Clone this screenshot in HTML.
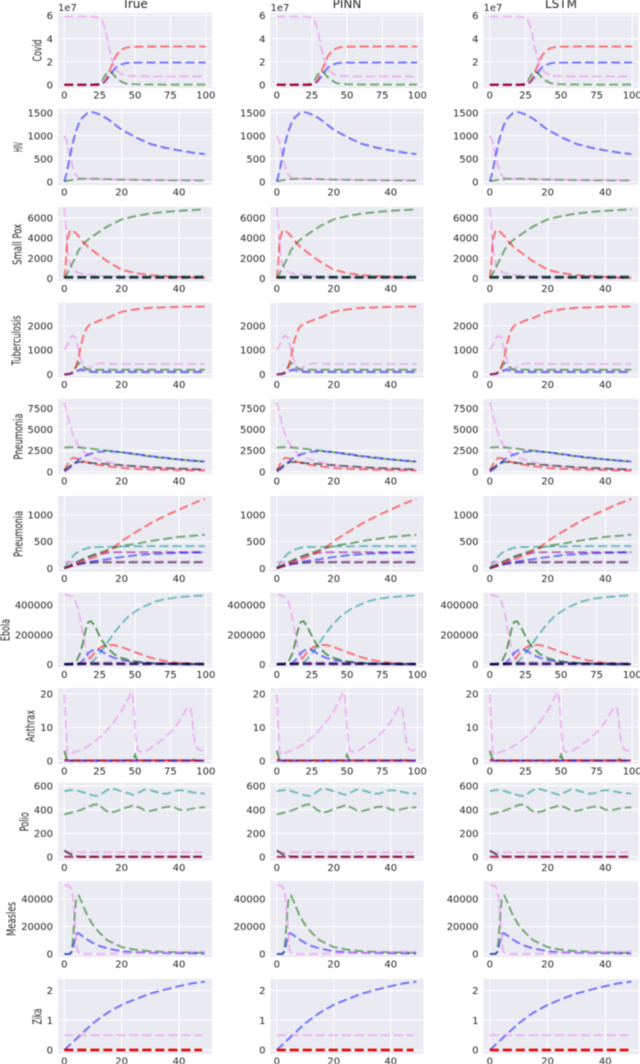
<!DOCTYPE html>
<html lang="en">
<head>
<meta charset="utf-8">
<title>Epidemic model comparison: True, PINN, LSTM</title>
<style>
html,body{margin:0;padding:0;background:#fff;width:640px;height:1064px;overflow:hidden}
svg{display:block;filter:blur(0.6px)}
text{font-family:"DejaVu Sans","Liberation Sans",sans-serif;fill:#262626}
</style>
</head>
<body>
<svg id="chart" xmlns="http://www.w3.org/2000/svg" width="640" height="1064" viewBox="0 0 640 1064"></svg>
<script>
// ---------- Column and row labels ----------
const columnTitles = ["True", "PINN", "LSTM"];
const diseaseNames = ["Covid","HIV","Small Pox","Tuberculosis","Pneumonia","Pneumonia","Ebola","Anthrax","Polio","Measles","Zika"];

// ---------- Axis tick labels ----------
const xTicksLong = [0,25,50,75,100];
const xTicksShort = [0,20,40];
const yTicksCovid = [0,2,4,6];
const yTicksHiv = [0,500,1000,1500];
const yTicksSmallPox = [0,2000,4000,6000];
const yTicksTb = [0,1000,2000];
const yTicksPneumoniaA = [0,2500,5000,7500];
const yTicksPneumoniaB = [0,500,1000];
const yTicksEbola = [0,200000,400000];
const yTicksAnthrax = [0,10,20];
const yTicksPolio = [0,200,400,600];
const yTicksMeasles = [0,20000,40000];
const yTicksZika = [0,1,2];

// ---------- Covid ----------
const covidTime = [0,10,20,25,27,29,31,33,35,37,40,43,46,50,60,100];
const covidSusceptible = [5.93,5.93,5.92,5.85,5.5,4.8,3.6,2.5,1.7,1.25,.95,.82,.77,.74,.72,.72];
const covidRecovered = [0,0,0,.02,.1,.35,.9,1.5,2.15,2.6,3.0,3.2,3.27,3.3,3.32,3.32];
const covidInfected = [0,0,0,.03,.1,.3,.6,.95,1.3,1.55,1.75,1.87,1.91,1.92,1.93,1.93];
const covidExposed = [0,0,0,.1,.4,.85,1.15,1.1,.85,.55,.3,.12,.07,.04,.02,.01];
const covidEarlyTime = [0,25];
const covidEarly = [0,0];

// ---------- HIV ----------
const hivTime = [0,1,2,3,4,5,6,8,9,10,12,15,20,25,30,35,40,45,49];
const hivBlue = [0,240,560,850,1080,1250,1370,1490,1510,1510,1470,1370,1130,960,820,740,680,630,600];
const hivPink = [1000,850,560,300,150,90,70,65,60,60,55,50,45,40,38,35,35,33,32];
const hivGreen = [10,20,30,40,50,55,60,65,65,65,60,55,45,40,35,30,28,25,25];

// ---------- Small pox ----------
const poxTime = [0,.5,1,2,3,4,5,6,8,10,12,15,20,25,30,35,40,45,49];
const poxPink = [7000,5200,3000,1300,900,650,550,470,370,300,240,180,120,80,60,50,40,30,25];
const poxRed = [0,1500,3800,4750,4750,4500,4200,3800,3200,2750,2300,1700,850,500,320,220,150,90,50];
const poxGreen = [0,200,500,1000,1600,2150,2800,3200,3800,4200,4600,5150,5870,6200,6450,6600,6720,6800,6850];
const poxFlatTime = [0,49];
const poxBlack = [90,90];
const poxTeal = [130,170];

// ---------- Tuberculosis ----------
const tbTime = [0,1,2,3,4,5,6,7,8,9,10,12,13,15,20,25,30,35,40,45,49];
const tbPink = [1000,1200,1500,1600,1500,1000,550,300,220,290,350,440,460,440,430,430,430,430,430,430,430];
const tbRed = [0,10,30,80,300,700,1300,1700,1950,2050,2100,2200,2250,2320,2580,2680,2740,2760,2780,2790,2790];
const tbGreen = [0,10,30,100,300,480,400,280,200,190,190,190,190,190,190,190,190,190,190,190,190];
const tbBlue = [0,10,20,60,120,170,200,160,130,110,100,100,100,100,100,100,100,100,100,100,100];

// ---------- Pneumonia (first) ----------
const pnaTime = [0,1,2,3,4,5,6,7,8,10,12,15,20,25,30,35,40,45,49];
const pnaPink = [8200,6800,5500,4400,3600,3000,2600,2300,2000,1650,1400,1150,800,600,500,400,340,280,250];
const pnaGreen = [2850,2880,2900,2900,2880,2870,2850,2800,2780,2700,2600,2500,2300,2050,1800,1600,1450,1300,1180];
const pnaBlue = [0,200,500,800,1100,1400,1650,1800,2000,2200,2350,2450,2300,2100,1850,1650,1450,1300,1200];
const pnaBlack = [200,400,650,900,1050,1150,1150,1100,1080,1020,970,900,760,650,530,450,380,310,260];
const pnaRed = [100,800,1400,1650,1600,1500,1350,1200,1100,950,800,650,450,340,280,230,190,150,130];

// ---------- Pneumonia (second) ----------
const pnbTime = [0,2,4,6,8,10,12,15,17,20,25,30,35,40,45,49];
const pnbRed = [0,35,75,120,160,200,240,330,380,510,680,840,980,1100,1220,1300];
const pnbGreen = [0,60,110,160,210,250,290,340,380,420,460,510,550,590,610,630];
const pnbTeal = [0,170,280,340,380,400,400,400,405,410,410,415,415,415,415,415];
const pnbPurple = [0,50,100,150,200,240,270,290,300,300,300,300,300,300,300,300];
const pnbBlue = [0,30,60,90,110,130,150,170,190,210,245,265,280,290,295,300];
const pnbBlack = [0,40,70,90,100,105,110,110,110,110,110,110,110,110,110,110];
const pnbPink = [110,115,120,125,130,130,130,130,130,130,130,130,130,130,130,130];

// ---------- Ebola ----------
const ebolaTime = [0,3,5,7,9,11,13,15,17,19,21,23,25,27,30,35,40,45,50,55,60,65,70,75,80,90,99];
const ebolaPink = [470000,465000,458000,445000,400000,320000,210000,110000,50000,25000,12000,6000,3000,2000,1000,500,300,200,100,0,0,0,0,0,0,0,0];
const ebolaGreen = [0,1000,3000,12000,30000,70000,140000,230000,285000,290000,265000,230000,190000,155000,115000,70000,45000,30000,20000,14000,10000,7000,5000,3500,2500,1000,500];
const ebolaBlue = [0,0,0,1000,3000,10000,25000,50000,75000,90000,100000,100000,95000,85000,65000,45000,30000,22000,15000,12000,8000,5000,4000,3000,2000,1000,500];
const ebolaRed = [0,0,0,0,0,1000,5000,15000,30000,50000,75000,95000,110000,122000,130000,130000,118000,100000,82000,65000,48000,35000,25000,17000,11000,5000,2000];
const ebolaTeal = [0,0,0,0,0,0,500,2000,6000,14000,30000,50000,75000,100000,140000,210000,270000,320000,355000,385000,405000,425000,437000,445000,452000,460000,465000];
const ebolaFlatTime = [0,15,25,50,99];
const ebolaPurple = [0,9000,12000,10000,5000];
const ebolaBlack = [2000,3000,3000,3000,2000];

// ---------- Anthrax ----------
const anthraxTime = [0,1,2,3,5,10,15,20,25,30,35,40,45,47,48,49,50,51,52,54,57,60,65,70,75,80,85,87,89,90,91,92,94,97,99];
const anthraxPink = [20,10,2.5,1.7,2.2,3,4,5.2,7,9,11.5,14.5,18.5,20.5,20.5,17,10,5,3,2.6,2.8,3.5,5,6.5,8.5,11,14.5,16,16,14,10,6,3.5,3,3.8];
const anthraxSpikeTime = [0,1,2,3,48,49,50,51,52,88,89,90,92,99];
const anthraxGreen = [3,1.5,.3,0,.1,.5,1.7,.5,.1,.1,.6,.7,.1,0];
const anthraxFlatTime = [0,2,4,99];
const anthraxRed = [.3,.2,.05,.05];
const anthraxBlue = [.05,.05,0,0];
const anthraxPurple = [.1,.05,.05,.05];

// ---------- Polio ----------
const polioTime = [0,2,4,6,8,10,12,14,16,18,20,22,24,26,28,30,32,34,36,38,40,42,44,46,49];
const polioTeal = [555,565,565,550,535,520,515,550,580,570,555,540,525,545,570,565,550,535,535,555,565,560,550,540,535];
const polioGreen = [360,372,385,400,420,440,445,400,375,385,405,420,435,420,395,390,400,415,425,425,400,395,405,415,420];
const polioFlatTime = [0,48];
const polioPink = [40,40];
const polioCrimson = [2,2];
const polioDarkTime = [0,1,2,3,4,5,8,49];
const polioDark = [55,40,25,15,8,3,2,2];

// ---------- Measles ----------
const measlesTime = [0,1,2,2.5,3,3.5,4,4.5,5,6,7,8,10,12,15,20,25,30,35,40,45,49];
const measlesPink = [50000,50000,49000,47000,42000,30000,15000,3000,1000,200,0,0,0,0,100,300,600,900,1200,1400,1600,1800];
const measlesGreen = [0,0,100,2000,10000,25000,38000,42000,42500,38000,33000,28000,21000,16000,10000,5000,3000,2000,1500,1200,1000,800];
const measlesBlue = [0,0,100,1000,4000,9000,13000,15000,15000,13500,12000,10500,8000,6000,4000,2000,1200,800,600,500,400,300];

// ---------- Zika ----------
const zikaTime = [0,5,10,15,20,25,30,35,40,45,49];
const zikaBlue = [0,.45,.9,1.25,1.52,1.72,1.9,2.03,2.15,2.25,2.3];
const zikaFlatTime = [0,48];
const zikaPink = [.5,.5];
const zikaRed = [0,0];
const zikaDark = [0,0];

// ---------- Line colours ----------
const PINK = "#ee82ee", RED = "#ff0000", BLUE = "#0000ff", GREEN = "#006400",
      TEAL = "#008b8b", BLACK = "#000000", PURPLE = "#800080", CRIMSON = "#a0003c";

// ---------- Series per panel: [name, time, values, colour, opacity, width, dash offset] ----------
const panelSeries = [
  [["exposed",covidTime,covidExposed,GREEN,.5],["infected",covidTime,covidInfected,BLUE,.5],["recovered",covidTime,covidRecovered,RED,.5],["susceptible",covidTime,covidSusceptible,PINK,.5],["early",covidEarlyTime,covidEarly,CRIMSON,.8,2.4]],
  [["green",hivTime,hivGreen,GREEN,.5],["pink",hivTime,hivPink,PINK,.5],["blue",hivTime,hivBlue,BLUE,.5]],
  [["pink",poxTime,poxPink,PINK,.5],["green",poxTime,poxGreen,GREEN,.5],["red",poxTime,poxRed,RED,.5],["teal",poxFlatTime,poxTeal,TEAL,.6,2.6],["black",poxFlatTime,poxBlack,BLACK,.7,2.6]],
  [["pink",tbTime,tbPink,PINK,.5],["green",tbTime,tbGreen,GREEN,.5],["blue",tbTime,tbBlue,BLUE,.5,2.4],["red",tbTime,tbRed,RED,.5]],
  [["pink",pnaTime,pnaPink,PINK,.5],["red",pnaTime,pnaRed,RED,.5],["green",pnaTime,pnaGreen,GREEN,.5],["blue",pnaTime,pnaBlue,BLUE,.5],["black",pnaTime,pnaBlack,BLACK,.5]],
  [["teal",pnbTime,pnbTeal,TEAL,.5],["purple",pnbTime,pnbPurple,PURPLE,.5],["pink",pnbTime,pnbPink,PINK,.6],["black",pnbTime,pnbBlack,BLACK,.5],["blue",pnbTime,pnbBlue,BLUE,.5],["green",pnbTime,pnbGreen,GREEN,.5],["red",pnbTime,pnbRed,RED,.5]],
  [["pink",ebolaTime,ebolaPink,PINK,.5],["teal",ebolaTime,ebolaTeal,TEAL,.5],["red",ebolaTime,ebolaRed,RED,.5],["blue",ebolaTime,ebolaBlue,BLUE,.5],["green",ebolaTime,ebolaGreen,GREEN,.6],["purple",ebolaFlatTime,ebolaPurple,PURPLE,.4],["black",ebolaFlatTime,ebolaBlack,"#000040",.8,2.4]],
  [["pink",anthraxTime,anthraxPink,PINK,.5],["green",anthraxSpikeTime,anthraxGreen,GREEN,.6],["blue",anthraxFlatTime,anthraxBlue,BLUE,.55,2.4],["red",anthraxFlatTime,anthraxRed,RED,.6,2.2,5],["purple",anthraxFlatTime,anthraxPurple,PURPLE,.3,2,9]],
  [["teal",polioTime,polioTeal,TEAL,.5],["green",polioTime,polioGreen,GREEN,.5],["pink",polioFlatTime,polioPink,PINK,.5],["dark",polioDarkTime,polioDark,BLACK,.6],["crimson",polioFlatTime,polioCrimson,CRIMSON,.8,2.2]],
  [["green",measlesTime,measlesGreen,GREEN,.5],["blue",measlesTime,measlesBlue,BLUE,.5],["pink",measlesTime,measlesPink,PINK,.55]],
  [["blue",zikaTime,zikaBlue,BLUE,.5],["pink",zikaFlatTime,zikaPink,PINK,.5],["red",zikaFlatTime,zikaRed,RED,.7,2.6],["dark",zikaFlatTime,zikaDark,"#e00000",.9,2.6]]
];
const panelYTicks = [yTicksCovid,yTicksHiv,yTicksSmallPox,yTicksTb,yTicksPneumoniaA,yTicksPneumoniaB,yTicksEbola,yTicksAnthrax,yTicksPolio,yTicksMeasles,yTicksZika];
const panelXTicks = [xTicksLong,xTicksShort,xTicksShort,xTicksShort,xTicksShort,xTicksShort,xTicksLong,xTicksLong,xTicksShort,xTicksShort,xTicksShort];

// ---------- Axis ranges ----------
const yMinimums = [-.28,-72,-338,-136,-272,-64,-20000,-1,-31,-2200,-.135];
const yMaximums = [6.23,1580,7095,2938,8600,1356,483000,21.8,625,53100,2.39];
const xRangeLong = [-4.46,104.4];
const xRangeShort = [-2.2,51.5];

// ---------- Layout ----------
const rowTops = [13,109,207,303,399,496,592.7,688,783,881,979];
const rowBottoms = [88,185,281.7,377.7,474,571.7,667.3,764,860.7,957,1054];
const columnLefts = [58,270.5,483.5];
const columnWidths = [154,153,155];
const yLabelCenters = [37,18,17,16,18,18,5,30,24,11,37];
const yLabelLengths = [22,10,41,50,46,46,22,32,19,34,16];

const NS = "http://www.w3.org/2000/svg";
const svg = document.getElementById("chart");
function make(tag, attrs, parent) {
  const el = document.createElementNS(NS, tag);
  for (const k in attrs) el.setAttribute(k, attrs[k]);
  parent.appendChild(el);
  return el;
}

columnTitles.forEach(function (title, c) {
  const t = make("text", {x: columnLefts[c] + columnWidths[c] / 2, y: 8, "text-anchor": "middle", "font-size": 12}, svg);
  
  
  t.textContent = title;

  diseaseNames.forEach(function (name, r) {
    const left = columnLefts[c], width = columnWidths[c], top = rowTops[r], bottom = rowBottoms[r];
    const xr = panelXTicks[r] === xTicksLong ? xRangeLong : xRangeShort;
    const xScale = function (v) { return left + (v - xr[0]) / (xr[1] - xr[0]) * width; };
    const yScale = function (v) { return bottom - (v - yMinimums[r]) / (yMaximums[r] - yMinimums[r]) * (bottom - top); };

    const g = make("g", {}, svg);
    
    

    const bg = make("rect", {x: left, y: top, width: width, height: bottom - top, fill: "#eaeaf2"}, g);
    
    

    panelXTicks[r].forEach(function (tick) {
      const px = xScale(tick);
      const line = make("line", {x1: px, x2: px, y1: top, y2: bottom, stroke: "#fff", "stroke-width": 1}, g);
      
      
      const label = make("text", {x: px, y: bottom + 10.5, "text-anchor": "middle", "font-size": 10}, g);
      
      
      label.textContent = tick;
    });

    panelYTicks[r].forEach(function (tick) {
      const py = yScale(tick);
      const line = make("line", {x1: left, x2: left + width, y1: py, y2: py, stroke: "#fff", "stroke-width": 1}, g);
      
      
      const label = make("text", {x: left - 5, y: py + 3.6, "text-anchor": "end", "font-size": 10}, g);
      
      
      label.textContent = tick;
    });

    panelSeries[r].forEach(function (s) {
      const times = s[1], values = s[2];
      let d = "";
      values.forEach(function (v, i) {
        d += (i ? "L" : "M") + xScale(times[i]).toFixed(2) + " " + yScale(v).toFixed(2);
      });
      const path = make("path", {d: d, fill: "none", stroke: s[3], "stroke-opacity": s[4], "stroke-width": s[5] || 2, "stroke-dasharray": "9 4", "stroke-dashoffset": s[6] || 0}, g);
      
      
    });

    if (r === 0) {
      const off = make("text", {x: left, y: 11, "font-size": 10}, g);
      
      
      off.textContent = "1e7";
    }

    if (c === 0) {
      const cy = (top + bottom) / 2;
      const yl = make("text", {
        transform: "translate(" + (yLabelCenters[r] + 4.5) + " " + cy + ") rotate(-90)",
        "text-anchor": "middle", "font-size": 12,
        textLength: yLabelLengths[r], lengthAdjust: "spacingAndGlyphs"
      }, g);
      
      
      yl.textContent = name;
    }
  });
});
</script>
</body>
</html>
